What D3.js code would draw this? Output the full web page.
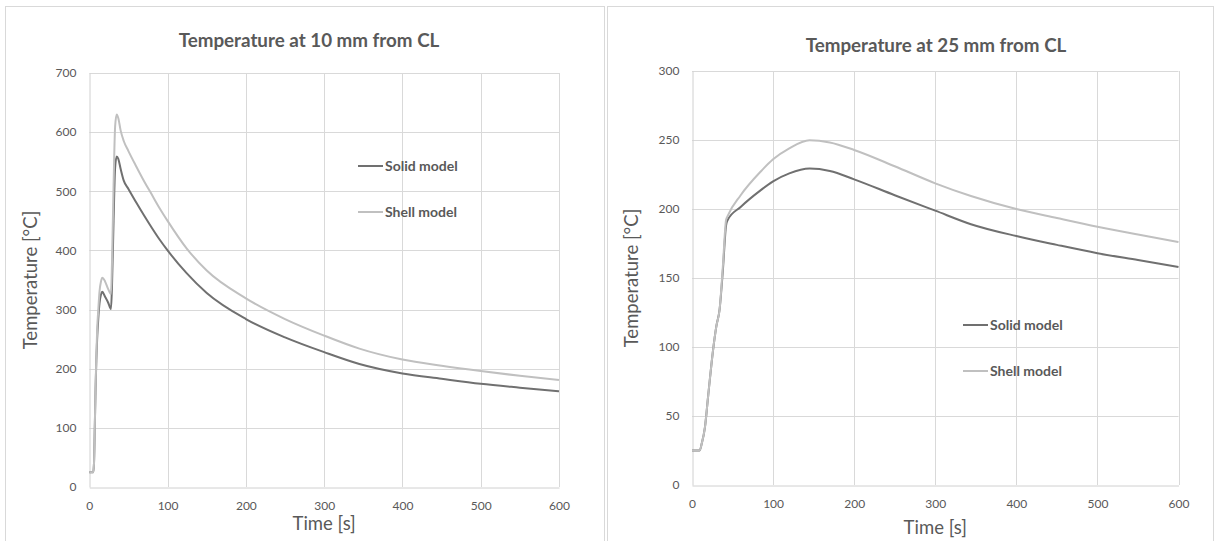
<!DOCTYPE html>
<html>
<head>
<meta charset="utf-8">
<script src="https://cdn.jsdelivr.net/npm/d3@7"></script>
<style>
  html, body { margin: 0; padding: 0; background: #ffffff; }
  svg { display: block; }
  text { font-family: Lato, "Open Sans", sans-serif; fill: #595959; }
</style>
</head>
<body>
<svg id="chart" width="1218" height="541"></svg>
<script>
// ---------- DATA ----------
const seriesNames = ["Solid model", "Shell model"];
const xTicks = [0, 100, 200, 300, 400, 500, 600];

const leftTitle = "Temperature at 10 mm from CL";
const leftYTicks = [0, 100, 200, 300, 400, 500, 600, 700];
const leftTime  = [0, 5, 6, 7, 8, 9, 10, 11.5, 13, 15, 16.6, 20, 24, 27.7, 29, 31, 33, 35, 37, 40, 44, 50, 60, 70, 80, 90, 100, 124, 150, 200, 250, 300, 345, 400, 450, 500, 550, 600];
const leftSolid = [25, 25, 40, 100, 165, 215, 250, 285, 310, 326, 330, 322, 312, 301, 340, 450, 540, 559, 555, 538, 518, 504, 481, 459, 438, 418, 400, 362, 328, 284, 253, 228, 208, 192, 183, 174.5, 168, 162];
const leftShell = [25, 25, 40, 100, 170, 220, 265, 300, 330, 348, 354, 348, 335, 326, 380, 510, 610, 630, 624, 603, 585, 568, 542, 517, 494, 471, 450, 404, 366, 319, 284, 256, 234, 215.5, 205, 196, 188, 181];

const rightTitle = "Temperature at 25 mm from CL";
const rightYTicks = [0, 50, 100, 150, 200, 250, 300];
const rightTime  = [0, 9.5, 12, 16, 20, 26, 30, 34, 38, 42, 44, 60, 84.5, 100, 120, 145, 170, 200, 250, 300, 344, 400, 450, 500, 550, 600];
const rightSolid = [25, 25, 30, 42, 65, 98, 115, 127, 155, 188, 192, 201.5, 213.5, 220, 225.8, 229.3, 227.6, 221.5, 210, 198.8, 189, 180.4, 174, 168, 163, 158];
const rightShell = [25, 25, 30, 42, 65, 98, 115, 127, 158, 192, 195, 210, 227, 236, 244, 249.8, 248.2, 242.8, 231, 218.6, 209.4, 200, 193.5, 187.2, 181.5, 176];

const xLabel = "Time [s]";
const yLabel = "Temperature [°C]";

// ---------- STYLE ----------
const colors = ["#707070", "#c0c0c0"];
const svg = d3.select("#chart");

function drawChart(cfg) {
  const g = svg.append("g");
  g.append("rect")
    .attr("x", cfg.frame[0]).attr("y", cfg.frame[1])
    .attr("width", cfg.frame[2]).attr("height", cfg.frame[3])
    .attr("fill", "none").attr("stroke", "#d9d9d9").attr("stroke-width", 1);

  const x = d3.scaleLinear().domain([0, 600]).range([cfg.plot[0], cfg.plot[1]]);
  const y = d3.scaleLinear().domain([0, cfg.yMax]).range([cfg.plot[3], cfg.plot[2]]);

  g.append("g").selectAll("line").data(cfg.yTicks.filter(d => d > 0)).join("line")
    .attr("x1", x(0)).attr("x2", x(600))
    .attr("y1", d => Math.round(y(d)) + 0.5).attr("y2", d => Math.round(y(d)) + 0.5)
    .attr("stroke", "#d9d9d9").attr("stroke-width", 1);
  g.append("g").selectAll("line").data(xTicks.filter(d => d > 0)).join("line")
    .attr("x1", d => Math.round(x(d)) + 0.5).attr("x2", d => Math.round(x(d)) + 0.5)
    .attr("y1", y(cfg.yMax)).attr("y2", y(0))
    .attr("stroke", "#d9d9d9").attr("stroke-width", 1);

  const xAxis = g.append("g").attr("transform", `translate(0,${Math.round(y(0)) + 0.5})`)
    .call(d3.axisBottom(x).tickValues(xTicks).tickSize(0).tickPadding(14));
  const yAxis = g.append("g").attr("transform", `translate(${Math.round(x(0)) + 0.5},0)`)
    .call(d3.axisLeft(y).tickValues(cfg.yTicks).tickSize(0).tickPadding(13));
  [xAxis, yAxis].forEach(a => {
    a.select(".domain").attr("stroke", "#d0d0d0").attr("stroke-width", 1);
    a.selectAll("text").attr("fill", "#595959").style("font-size", "12px")
      .style("font-family", "Lato, 'Open Sans', sans-serif");
  });

  const series = [cfg.solid, cfg.shell];
  series.forEach((vals, i) => {
    const pts = cfg.time.map((t, k) => [t, vals[k]]);
    g.append("path").datum(pts)
      .attr("fill", "none").attr("stroke", colors[i]).attr("stroke-width", 2)
      .attr("stroke-linejoin", "round")
      .attr("d", d3.line().x(d => x(d[0])).y(d => y(d[1])).curve(d3.curveMonotoneX));
  });

  g.append("text").attr("x", cfg.titlePos[0]).attr("y", cfg.titlePos[1])
    .attr("text-anchor", "middle").style("font-size", "18.8px").style("font-weight", "700")
    .text(cfg.title);
  g.append("text").attr("x", (x(0) + x(600)) / 2).attr("y", cfg.xLabelY)
    .attr("text-anchor", "middle").style("font-size", "18.5px").text(xLabel);
  g.append("text")
    .attr("transform", `translate(${cfg.yLabelX},${(y(0) + y(cfg.yMax)) / 2}) rotate(-90)`)
    .attr("text-anchor", "middle").style("font-size", "18.5px").text(yLabel);

  seriesNames.forEach((name, i) => {
    const ly = cfg.legend[1] + i * cfg.legend[2];
    g.append("line").attr("x1", cfg.legend[0]).attr("x2", cfg.legend[0] + 25)
      .attr("y1", ly).attr("y2", ly).attr("stroke", colors[i]).attr("stroke-width", 2);
    g.append("text").attr("x", cfg.legend[0] + 27).attr("y", ly + 5)
      .style("font-size", "14px").style("font-weight", "700").text(name);
  });
}

drawChart({
  frame: [5.5, 6.5, 599, 560],
  plot: [89.3, 559, 73, 487],
  yMax: 700, yTicks: leftYTicks,
  time: leftTime, solid: leftSolid, shell: leftShell,
  title: leftTitle, titlePos: [309, 47],
  xLabelY: 530, yLabelX: 37,
  legend: [358, 166, 46]
});
drawChart({
  frame: [607.5, 6.5, 606, 560],
  plot: [692, 1178.5, 71, 485],
  yMax: 300, yTicks: rightYTicks,
  time: rightTime, solid: rightSolid, shell: rightShell,
  title: rightTitle, titlePos: [936, 52],
  xLabelY: 534, yLabelX: 638,
  legend: [963, 325, 46]
});
</script>
</body>
</html>
